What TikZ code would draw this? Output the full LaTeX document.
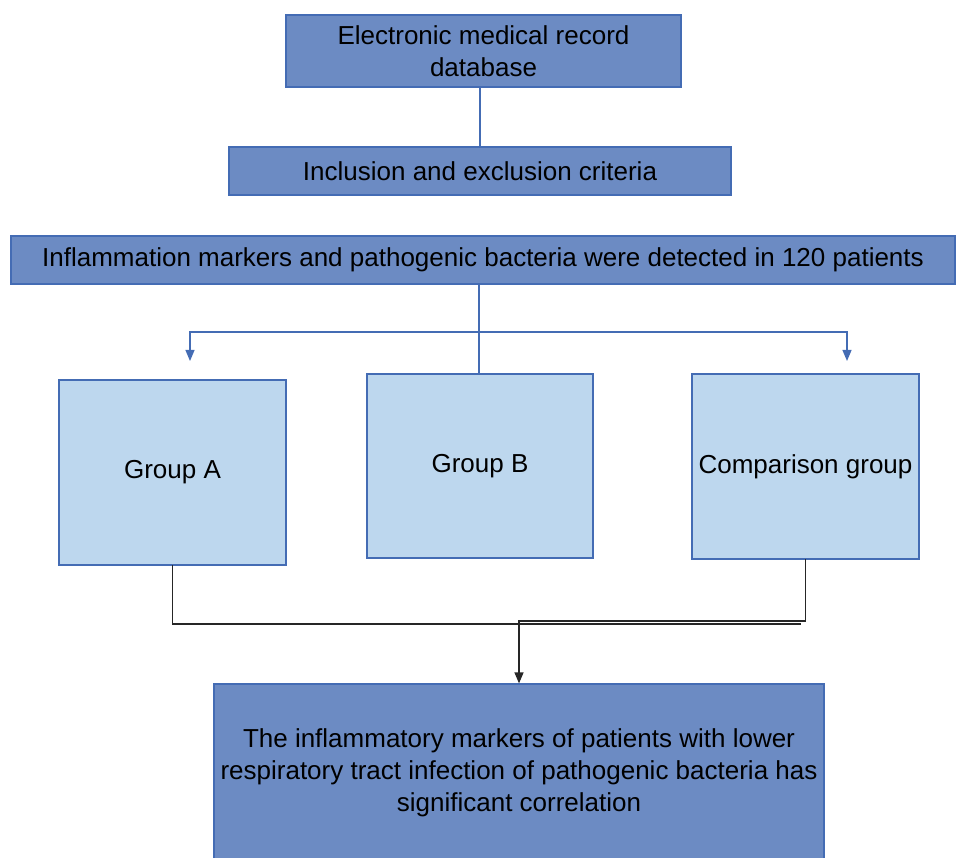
\documentclass[tikz,border=0pt]{standalone}
\usepackage{fontspec}
\setmainfont{Liberation Sans}
\usepackage{tikz}
\usetikzlibrary{arrows.meta}
\definecolor{boxdark}{RGB}{108,139,195}
\definecolor{boxlight}{RGB}{189,215,238}
\definecolor{boxline}{RGB}{68,108,180}
\tikzset{
  darkbox/.style={draw=boxline,line width=1.2pt,fill=boxdark,inner sep=0pt,align=center,font=\fontsize{26}{32}\selectfont},
  lightbox/.style={draw=boxline,line width=1.2pt,fill=boxlight,inner sep=0pt,align=center,font=\fontsize{26}{32}\selectfont},
  link/.style={draw=boxline,line width=1.2pt},
  joinline/.style={draw=black!85,line width=1.3pt},
  tip/.style={-{Triangle[length=11pt,width=9pt]}}
}
\begin{document}
\begin{tikzpicture}[line cap=rect,line join=miter,x=1pt,y=-1pt]
\useasboundingbox (0,0) rectangle (956,858);
\clip (0,0) rectangle (956,858);
\node[darkbox,minimum width=395,minimum height=72] (db) at (483.5,51) {Electronic medical record\\database};
\node[darkbox,minimum width=502,minimum height=48] (inc) at (480,171) {Inclusion and exclusion criteria};
\node[darkbox,minimum width=944,minimum height=48] (det) at (483,260) {Inflammation markers and pathogenic bacteria were detected in 120 patients};
\node[lightbox,minimum width=227,minimum height=185] (grpA) at (172.5,472.5) {Group A};
\node[lightbox,minimum width=226,minimum height=184] (grpB) at (480,466) {Group B};
\node[lightbox,minimum width=227,minimum height=185] (cmp) at (805.5,466.5) {Comparison group};
\node[darkbox,minimum width=610,minimum height=178] (out) at (519,773) {The inflammatory markers of patients with lower\\respiratory tract infection of pathogenic bacteria has\\significant correlation};
\coordinate (split) at (479,332);
\coordinate (tipA) at (190,361);
\coordinate (tipC) at (847,361);
\coordinate (runA) at (800,624);
\coordinate (mrg) at (805.5,621);
\draw[link] (inc.north) -- (inc.north |- db.south);
\draw[link] (grpB.north -| split) -- (det.south -| split);
\draw[link,tip] (split) -| (tipA);
\draw[link,tip] (split) -| (tipC);
\draw[joinline] (grpA.south) |- (runA);
\draw[joinline,tip] (cmp.south) -- (mrg) -| (out.north);
\end{tikzpicture}
\end{document}
